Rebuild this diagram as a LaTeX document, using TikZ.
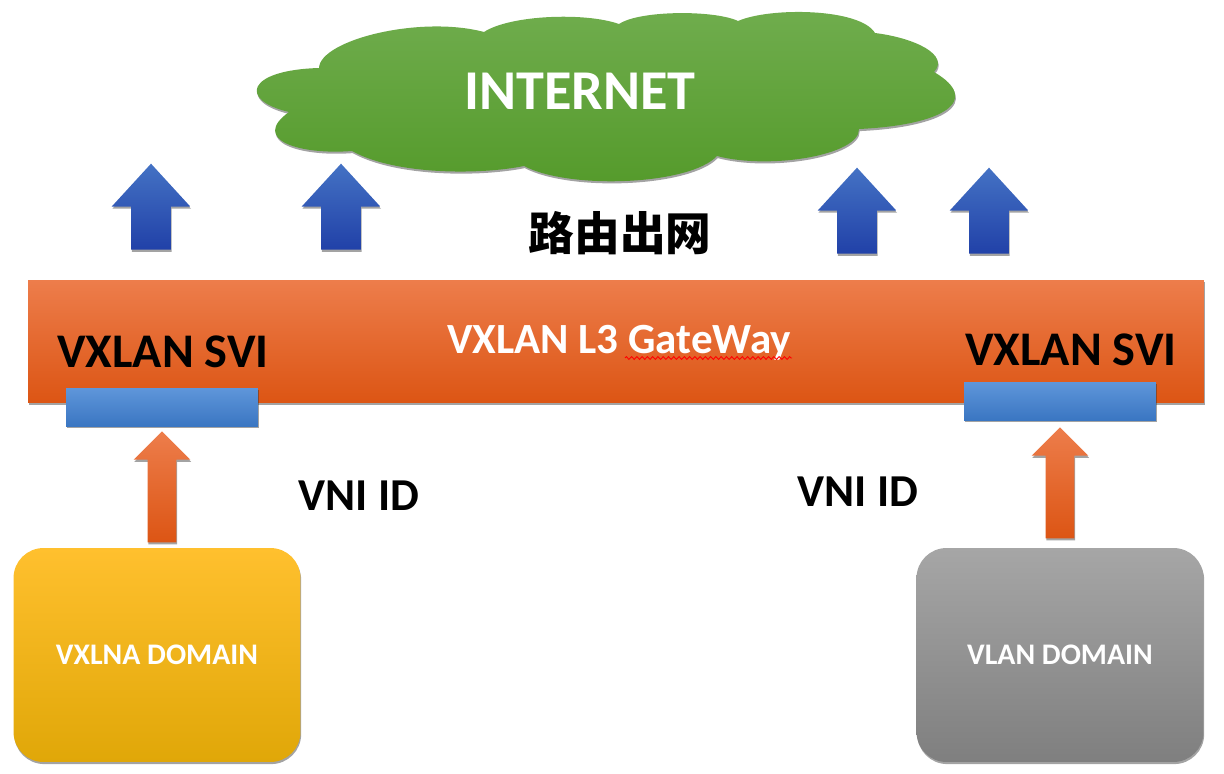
\documentclass[tikz,border=0pt]{standalone}
\usepackage{fontspec}
\setmainfont{Carlito}
\newfontfamily\cjkfont{Noto Sans CJK SC}
\usetikzlibrary{shapes.arrows,shadows,decorations.pathmorphing}
\begin{document}
\begin{tikzpicture}[x=0.02cm,y=-0.02cm]
    % Define the styles for the boxes, arrows and labels
    \tikzstyle{softshadow}=[drop shadow={shadow xshift=0.4pt,shadow yshift=-1.2pt,opacity=0.45,fill=black!80}]
    \tikzstyle{gatewaybar}=[rectangle, inner sep=0, minimum width=23.52cm, minimum height=2.46cm, top color=orangetop, middle color=orangemid, bottom color=orangelow, softshadow]
    \tikzstyle{sviport}=[rectangle, inner sep=0, minimum width=3.84cm, minimum height=0.76cm, top color=porttop, bottom color=portlow, softshadow]
    \tikzstyle{domainbox}=[rectangle, rounded corners=0.6cm, inner sep=0, minimum width=5.74cm, minimum height=4.28cm, softshadow, text=white, font=\bfseries\fontsize{17}{20}\selectfont]
    \tikzstyle{uparrow}=[single arrow, shape border rotate=90, inner sep=0, text width=0.78cm, minimum width=1.56cm, minimum height=1.72cm, single arrow head extend=0.39cm, single arrow tip angle=85, top color=bluetop, bottom color=bluelow, softshadow]
    \tikzstyle{feedarrow}=[single arrow, shape border rotate=90, inner sep=0, text width=0.56cm, minimum width=1.12cm, minimum height=2.22cm, single arrow head extend=0.28cm, single arrow tip angle=90, top color=orangetop, middle color=orangemid, bottom color=orangelow, softshadow]
    \tikzstyle{darklabel}=[font=\bfseries\fontsize{27.5}{33}\selectfont]
    \definecolor{orangetop}{HTML}{ED7D4B}
    \definecolor{orangemid}{HTML}{F26522}
    \definecolor{orangelow}{HTML}{DC5514}
    \definecolor{porttop}{HTML}{5F96DA}
    \definecolor{portlow}{HTML}{3A76C2}
    \definecolor{bluetop}{HTML}{4472C4}
    \definecolor{bluelow}{HTML}{2141A8}
    \definecolor{cloudtop}{HTML}{70AD4E}
    \definecolor{cloudmid}{HTML}{5FA833}
    \definecolor{cloudlow}{HTML}{549A2A}
    \definecolor{ambertop}{HTML}{FFC02E}
    \definecolor{ambermid}{HTML}{FFB90A}
    \definecolor{amberlow}{HTML}{E0A708}
    \definecolor{greytop}{HTML}{A6A6A6}
    \definecolor{greylow}{HTML}{7F7F7F}

    \useasboundingbox (0,0) rectangle (1224,774);

    % Draw the cloud
    \path[top color=cloudtop, middle color=cloudmid, bottom color=cloudlow, softshadow]
        (319,68) .. controls (320,40) and (420,15) .. (484,32)
        .. controls (510,15) and (585,12) .. (619,24)
        .. controls (640,10) and (715,10) .. (738,21)
        .. controls (770,7) and (860,8) .. (875,33)
        .. controls (915,38) and (950,55) .. (934,72)
        .. controls (982,100) and (945,125) .. (859,129)
        .. controls (860,155) and (770,170) .. (717,156)
        .. controls (690,185) and (570,190) .. (524,166)
        .. controls (480,175) and (395,175) .. (352,151)
        .. controls (300,155) and (250,140) .. (289,112)
        .. controls (238,100) and (247,70) .. (319,68) -- cycle;
    \node[text=white, font=\bfseries\fontsize{32}{38}\selectfont] (internet) at (580,91) {INTERNET};

    % Draw the arrows going up
    \node[uparrow] (up_a) at (151,217.5) {};
    \node[uparrow] (up_b) at (341,217.5) {};
    \node[uparrow] (up_c) at (857,221.5) {};
    \node[uparrow] (up_d) at (989,221.5) {};
    \node[font=\cjkfont\bfseries\fontsize{26}{30}\selectfont] (routing) at (620,233) {路由出网};

    % Draw the gateway and its ports
    \node[gatewaybar] (gateway) at (616,341.5) {};
    \node[sviport] (port_left) at (162,407) {};
    \node[sviport] (port_right) at (1060,401) {};
    \node[darklabel] (svi_left) at (163,352) {VXLAN SVI};
    \node[darklabel] (svi_right) at (1071,350) {VXLAN SVI};
    \node[text=white, font=\bfseries\fontsize{24.5}{29}\selectfont] (gateway_label) at (619,343) {VXLAN L3 GateWay};
    \coordinate (squiggle_a) at (625,358);
    \coordinate (squiggle_b) at (792,358);
    \draw[red, line width=0.5pt, decorate, decoration={zigzag, segment length=3pt, amplitude=0.8pt}] (squiggle_a) -- (squiggle_b);

    % Draw the arrows coming from the domains
    \node[feedarrow] (feed_left) at (162,494) {};
    \node[feedarrow] (feed_right) at (1060,490) {};
    \node[font=\bfseries\fontsize{26}{32}\selectfont] (vni_left) at (359,496) {VNI ID};
    \node[font=\bfseries\fontsize{26}{32}\selectfont] (vni_right) at (858,492) {VNI ID};

    % Draw the domains
    \node[domainbox, top color=ambertop, middle color=ambermid, bottom color=amberlow] (vxlan_domain) at (157,655) {VXLNA DOMAIN};
    \node[domainbox, top color=greytop, bottom color=greylow] (vlan_domain) at (1060,655) {VLAN DOMAIN};
\end{tikzpicture}
\end{document}
